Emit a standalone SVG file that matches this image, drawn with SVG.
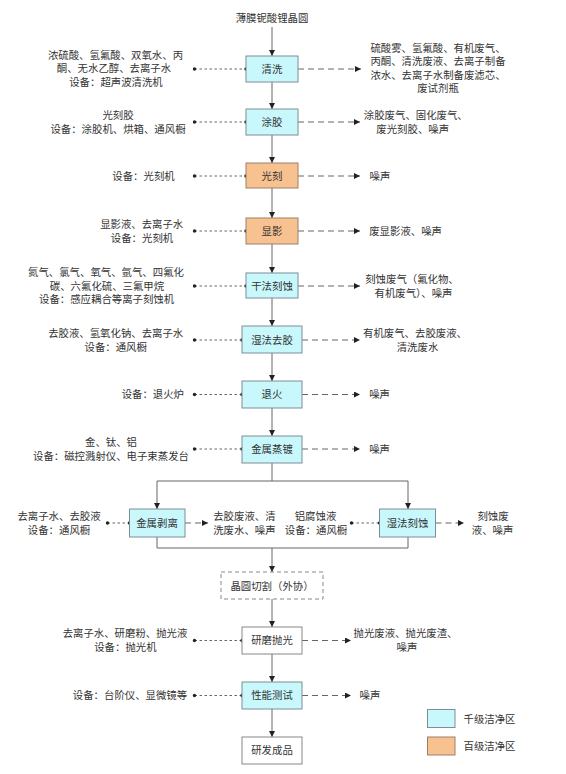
<svg xmlns="http://www.w3.org/2000/svg" width="566" height="774" viewBox="0 0 566 774">
<style>
text{font-family:"Liberation Serif","Noto Sans CJK SC",serif;font-size:10.4px;fill:#333;text-anchor:middle;dominant-baseline:central}
.box{stroke:#7d8f96;stroke-width:1}
.c{fill:#c8f8fc}
.o{fill:#f8c290;stroke:#9a8068}
.w{fill:#fff;stroke:#888}
.dash{fill:#fff;stroke:#888;stroke-dasharray:4,3}
.flow{stroke:#666;stroke-width:1;fill:none}
.in{stroke:#555;stroke-width:0.9;stroke-dasharray:2.5,2.5;fill:none}
.out{stroke:#555;stroke-width:0.9;stroke-dasharray:6,4;fill:none}
.dot{fill:#222}
</style>
<defs>
<marker id="ah" viewBox="0 0 10 10" refX="10" refY="5" markerWidth="6" markerHeight="6" markerUnits="userSpaceOnUse" orient="auto">
<path d="M0,0 L10,5 L0,10 Z" fill="#222"/>
</marker>
</defs>

<g id="connectors">
<path class="flow" d="M272,27 V56" marker-end="url(#ah)"/>
<path class="flow" d="M272,82 V109" marker-end="url(#ah)"/>
<path class="flow" d="M272,135 V163" marker-end="url(#ah)"/>
<path class="flow" d="M272,188 V218" marker-end="url(#ah)"/>
<path class="flow" d="M272,244 V273" marker-end="url(#ah)"/>
<path class="flow" d="M272,298 V326" marker-end="url(#ah)"/>
<path class="flow" d="M272,353 V381" marker-end="url(#ah)"/>
<path class="flow" d="M272,408 V436" marker-end="url(#ah)"/>
<path class="flow" d="M272,463 V481 M157,481 H408"/>
<path class="flow" d="M157,481 V509" marker-end="url(#ah)"/>
<path class="flow" d="M408,481 V509" marker-end="url(#ah)"/>
<path class="flow" d="M157,537 V548 H408 V537"/>
<path class="flow" d="M272,548 V572" marker-end="url(#ah)"/>
<path class="flow" d="M272,599 V627" marker-end="url(#ah)"/>
<path class="flow" d="M272,654 V682" marker-end="url(#ah)"/>
<path class="flow" d="M272,709 V737" marker-end="url(#ah)"/>

<path class="in" d="M194.5,69 H246"/>
<path class="in" d="M194.5,122 H246"/>
<path class="in" d="M194.5,176 H246"/>
<path class="in" d="M194.5,231 H246"/>
<path class="in" d="M194.5,286 H246"/>
<path class="in" d="M194.5,340 H242"/>
<path class="in" d="M194.5,394.5 H242"/>
<path class="in" d="M194.5,449 H242"/>
<path class="in" d="M107.5,523 H129.5"/>
<path class="in" d="M351.5,523 H379.5"/>
<path class="in" d="M194.5,640.5 H242"/>
<path class="in" d="M194.5,695.5 H242"/>
<g class="dot">
<circle cx="194.5" cy="69" r="1.7"/><circle cx="246" cy="69" r="1.7"/>
<circle cx="194.5" cy="122" r="1.7"/><circle cx="246" cy="122" r="1.7"/>
<circle cx="194.5" cy="176" r="1.7"/><circle cx="246" cy="176" r="1.7"/>
<circle cx="194.5" cy="231" r="1.7"/><circle cx="246" cy="231" r="1.7"/>
<circle cx="194.5" cy="286" r="1.7"/><circle cx="246" cy="286" r="1.7"/>
<circle cx="194.5" cy="340" r="1.7"/><circle cx="242" cy="340" r="1.7"/>
<circle cx="194.5" cy="394.5" r="1.7"/><circle cx="242" cy="394.5" r="1.7"/>
<circle cx="194.5" cy="449" r="1.7"/><circle cx="242" cy="449" r="1.7"/>
<circle cx="107.5" cy="523" r="1.7"/><circle cx="129.5" cy="523" r="1.7"/>
<circle cx="351.5" cy="523" r="1.7"/><circle cx="379.5" cy="523" r="1.7"/>
<circle cx="194.5" cy="640.5" r="1.7"/><circle cx="242" cy="640.5" r="1.7"/>
<circle cx="194.5" cy="695.5" r="1.7"/><circle cx="242" cy="695.5" r="1.7"/>
</g>

<path class="out" d="M298,69 H361" marker-end="url(#ah)"/>
<path class="out" d="M298,122 H360" marker-end="url(#ah)"/>
<path class="out" d="M298,176 H360" marker-end="url(#ah)"/>
<path class="out" d="M298,231 H360" marker-end="url(#ah)"/>
<path class="out" d="M298,286 H360" marker-end="url(#ah)"/>
<path class="out" d="M302,340 H360" marker-end="url(#ah)"/>
<path class="out" d="M302,394.5 H360" marker-end="url(#ah)"/>
<path class="out" d="M302,449 H360" marker-end="url(#ah)"/>
<path class="out" d="M185,523 H208" marker-end="url(#ah)"/>
<path class="out" d="M435.5,523 H464" marker-end="url(#ah)"/>
<path class="out" d="M302,640.5 H351" marker-end="url(#ah)"/>
<path class="out" d="M302,695.5 H351" marker-end="url(#ah)"/>
</g>

<g id="title"><text x="272" y="18">薄膜铌酸锂晶圆</text></g>

<g id="n-qingxi"><rect class="box c" x="246" y="56" width="52" height="26"/><text x="272" y="69">清洗</text></g>
<g id="n-tujiao"><rect class="box c" x="246" y="109" width="52" height="26"/><text x="272" y="122">涂胶</text></g>
<g id="n-guangke"><rect class="box o" x="246" y="163" width="52" height="25"/><text x="272" y="176">光刻</text></g>
<g id="n-xianying"><rect class="box o" x="246" y="218" width="52" height="26"/><text x="272" y="231">显影</text></g>
<g id="n-ganfa"><rect class="box c" x="246" y="273" width="52" height="25"/><text x="272" y="286">干法刻蚀</text></g>
<g id="n-shifaqujiao"><rect class="box c" x="242" y="326" width="60" height="27"/><text x="272" y="340">湿法去胶</text></g>
<g id="n-tuihuo"><rect class="box c" x="242" y="381" width="60" height="27"/><text x="272" y="394.5">退火</text></g>
<g id="n-zhengdu"><rect class="box c" x="242" y="436" width="60" height="27"/><text x="272" y="449">金属蒸镀</text></g>
<g id="n-boli"><rect class="box c" x="129.5" y="509" width="55.5" height="28"/><text x="157" y="523">金属剥离</text></g>
<g id="n-shifakeshi"><rect class="box c" x="379.5" y="509" width="56" height="28"/><text x="407.5" y="523">湿法刻蚀</text></g>
<g id="n-qiege"><rect class="dash" x="221" y="572" width="102" height="27"/><text x="272" y="586">晶圆切割（外协）</text></g>
<g id="n-yanmo"><rect class="w" x="242" y="627" width="60" height="27"/><text x="272" y="640.5">研磨抛光</text></g>
<g id="n-ceshi"><rect class="box c" x="242" y="682" width="60" height="27"/><text x="272" y="695.5">性能测试</text></g>
<g id="n-chengpin"><rect class="w" x="242" y="737" width="60" height="27"/><text x="272" y="750.5">研发成品</text></g>

<g id="inputs">
<text x="115.5" y="55">浓硫酸、氢氟酸、双氧水、丙</text>
<text x="114" y="68.5">酮、无水乙醇、去离子水</text>
<text x="116" y="82">设备：超声波清洗机</text>
<text x="118" y="115.5">光刻胶</text>
<text x="118" y="129">设备：涂胶机、烘箱、通风橱</text>
<text x="143.5" y="176">设备：光刻机</text>
<text x="141.7" y="224">显影液、去离子水</text>
<text x="142" y="238">设备：光刻机</text>
<text x="106" y="272.5">氮气、氯气、氧气、氩气、四氟化</text>
<text x="107" y="286">碳、六氟化硫、三氟甲烷</text>
<text x="106.6" y="299.5">设备：感应耦合等离子刻蚀机</text>
<text x="115.7" y="333">去胶液、氢氧化钠、去离子水</text>
<text x="115.7" y="347">设备：通风橱</text>
<text x="152.8" y="394.5">设备：退火炉</text>
<text x="111" y="442">金、钛、铝</text>
<text x="111" y="456">设备：磁控溅射仪、电子束蒸发台</text>
<text x="59" y="516">去离子水、去胶液</text>
<text x="59" y="530">设备：通风橱</text>
<text x="315.5" y="516">铝腐蚀液</text>
<text x="316" y="530">设备：通风橱</text>
<text x="125" y="633.5">去离子水、研磨粉、抛光液</text>
<text x="125.4" y="647.5">设备：抛光机</text>
<text x="130" y="695.5">设备：台阶仪、显微镜等</text>
</g>

<g id="outputs">
<text x="438" y="48">硫酸雾、氢氟酸、有机废气、</text>
<text x="438" y="61.5">丙酮、清洗废液、去离子制备</text>
<text x="438" y="75">浓水、去离子水制备废滤芯、</text>
<text x="438" y="88.5">废试剂瓶</text>
<text x="415.8" y="115.5">涂胶废气、固化废气、</text>
<text x="412.7" y="129">废光刻胶、噪声</text>
<text x="380" y="176">噪声</text>
<text x="405.6" y="231">废显影液、噪声</text>
<text x="412" y="279">刻蚀废气（氟化物、</text>
<text x="413.5" y="293">有机废气）、噪声</text>
<text x="415" y="333">有机废气、去胶废液、</text>
<text x="417.5" y="347">清洗废水</text>
<text x="379.6" y="394.5">噪声</text>
<text x="379.6" y="449">噪声</text>
<text x="244.4" y="516">去胶废液、清</text>
<text x="244.4" y="530">洗废水、噪声</text>
<text x="493" y="516">刻蚀废</text>
<text x="492.6" y="530">液、噪声</text>
<text x="405.5" y="633.5">抛光废液、抛光废渣、</text>
<text x="407" y="647.5">噪声</text>
<text x="370" y="695.5">噪声</text>
</g>

<g id="legend">
<rect class="box c" x="427.5" y="709.5" width="27.5" height="18"/>
<text x="489.5" y="719">千级洁净区</text>
<rect class="box o" x="427.5" y="737" width="27.5" height="18"/>
<text x="489.5" y="746">百级洁净区</text>
</g>
</svg>
